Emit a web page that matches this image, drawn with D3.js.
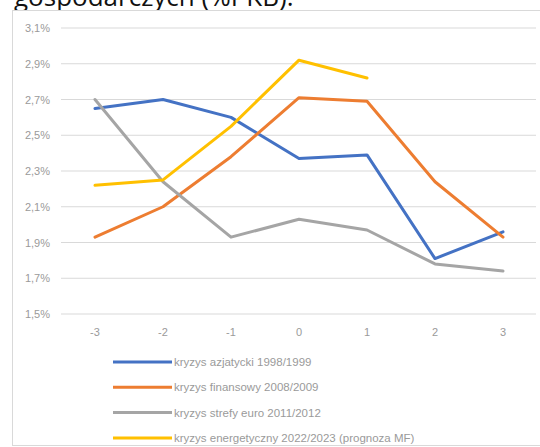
<!DOCTYPE html>
<html>
<head>
<meta charset="utf-8">
<script src="https://cdn.jsdelivr.net/npm/d3@7"></script>
<style>
  html, body { margin: 0; padding: 0; background: #fff; }
  svg { display: block; }
</style>
</head>
<body>
<svg id="chart" width="540" height="447"></svg>
<script>
// Years relative to the crisis year
const categories = ["-3", "-2", "-1", "0", "1", "2", "3"];
const yTicks = [1.5, 1.7, 1.9, 2.1, 2.3, 2.5, 2.7, 2.9, 3.1];

const seriesNames = [
  "kryzys azjatycki 1998/1999",
  "kryzys finansowy 2008/2009",
  "kryzys strefy euro 2011/2012",
  "kryzys energetyczny 2022/2023 (prognoza MF)"
];
const seriesColors = ["#4472c4", "#ed7d31", "#a5a5a5", "#ffc000"];

const asian     = [2.65, 2.70, 2.60, 2.37, 2.39, 1.81, 1.96];
const financial = [1.93, 2.10, 2.38, 2.71, 2.69, 2.24, 1.93];
const euro      = [2.70, 2.24, 1.93, 2.03, 1.97, 1.78, 1.74];
const energy    = [2.22, 2.25, 2.55, 2.92, 2.82];

const seriesValues = [asian, financial, euro, energy];

const svg = d3.select("#chart");

// Heading line above the chart frame
svg.append("text")
  .attr("x", 14).attr("y", 6)
  .attr("font-family", "'Open Sans', sans-serif")
  .attr("font-size", 26)
  .attr("fill", "#111")
  .text("gospodarczych (%PKB).");

// Chart frame
svg.append("rect")
  .attr("x", 12.5).attr("y", 10.5)
  .attr("width", 540).attr("height", 435)
  .attr("fill", "#fff")
  .attr("stroke", "#d9d9d9");

const x = d3.scaleBand().domain(categories).range([61, 537]);
const y = d3.scaleLinear().domain([1.5, 3.1]).range([314, 28]);

// Horizontal gridlines
svg.append("g").selectAll("line").data(yTicks).join("line")
  .attr("x1", 61).attr("x2", 536)
  .attr("y1", d => y(d)).attr("y2", d => y(d))
  .attr("stroke", "#d9d9d9").attr("stroke-width", 1);

const labelFont = "'Liberation Sans', sans-serif";
const labelColor = "#9a9a9a";

// Y axis labels
const fmt = d => d.toFixed(1).replace(".", ",") + "%";
svg.append("g").selectAll("text").data(yTicks).join("text")
  .attr("x", 50).attr("y", d => y(d) + 4)
  .attr("text-anchor", "end")
  .attr("font-family", labelFont)
  .attr("font-size", 11)
  .attr("fill", labelColor)
  .text(fmt);

// X axis labels
svg.append("g").selectAll("text").data(categories).join("text")
  .attr("x", d => x(d) + x.bandwidth() / 2).attr("y", 336)
  .attr("text-anchor", "middle")
  .attr("font-family", labelFont)
  .attr("font-size", 11)
  .attr("fill", labelColor)
  .text(d => d);

// Series lines
const line = d3.line()
  .x((d, i) => x(categories[i]) + x.bandwidth() / 2)
  .y(d => y(d));

svg.append("g").selectAll("path").data(seriesValues).join("path")
  .attr("d", d => line(d))
  .attr("fill", "none")
  .attr("stroke", (d, i) => seriesColors[i])
  .attr("stroke-width", 3)
  .attr("stroke-linejoin", "round")
  .attr("stroke-linecap", "round");

// Legend
const legend = svg.append("g").selectAll("g").data(seriesNames).join("g")
  .attr("transform", (d, i) => `translate(113, ${362 + i * 25.3})`);
legend.append("line")
  .attr("x1", 0).attr("x2", 59)
  .attr("stroke", (d, i) => seriesColors[i])
  .attr("stroke-width", 3);
legend.append("text")
  .attr("x", 61).attr("y", 4)
  .attr("font-family", labelFont)
  .attr("font-size", 11.5)
  .attr("fill", labelColor)
  .text(d => d);
</script>
</body>
</html>
